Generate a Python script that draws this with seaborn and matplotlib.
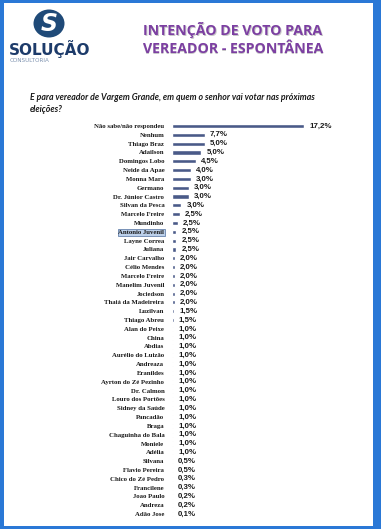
import numpy as np
import pandas as pd
import matplotlib.pyplot as plt
import matplotlib.patches as mpatches
import seaborn as sns

# ================= dados =================
candidatos = [
    "Não sabe/não respondeu", "Nenhum", "Thiago Braz", "Adailson", "Domingos Lobo",
    "Neide da Apae", "Monna Mara", "Germano", "Dr. Júnior Castro", "Silvan da Pesca",
    "Marcelo Freire", "Mundinho", "Antonio Juvenil", "Layne Correa", "Juliana",
    "Jair Carvalho", "Célio Mendes", "Marcelo Freire", "Manelim Juvenil", "Jociedson",
    "Thaiá da Madeireira", "Luzilvan", "Thiago Abreu", "Alan do Peixe", "China",
    "Abdias", "Aurélio do Luizão", "Andreaza", "Eranildes", "Ayrton do Zé Pezinho",
    "Dr. Calmon", "Louro dos Portões", "Sidney da Saúde", "Pancadão", "Braga",
    "Chaguinha do Bala", "Moniele", "Adélia", "Silvana", "Flavio Pereira",
    "Chico do Zé Pedro", "Francilene", "Joao Paulo", "Andreza", "Adão Jose",
]
percentuais = [
    17.2, 7.7, 5.0, 5.0, 4.5, 4.0, 3.0, 3.0, 3.0, 3.0,
    2.5, 2.5, 2.5, 2.5, 2.5, 2.0, 2.0, 2.0, 2.0, 2.0,
    2.0, 1.5, 1.5, 1.0, 1.0, 1.0, 1.0, 1.0, 1.0, 1.0,
    1.0, 1.0, 1.0, 1.0, 1.0, 1.0, 1.0, 1.0, 0.5, 0.5,
    0.3, 0.3, 0.2, 0.2, 0.1,
]
# comprimento das barras tal como aparecem no original (não batem com os rótulos)
barras = [
    17.2, 4.26, 4.26, 3.83, 3.09, 2.44, 2.44, 2.2, 2.2, 1.23,
    1.0, 0.8, 0.57, 0.57, 0.57, 0.35, 0.35, 0.35, 0.35, 0.35,
    0.35, 0.3, 0.2, 0.18, 0.18, 0.18, 0.18, 0.18, 0.18, 0.18,
    0.18, 0.18, 0.18, 0.18, 0.18, 0.18, 0.18, 0.18, 0.14, 0.14,
    0.14, 0.14, 0.12, 0.12, 0.1,
]
destaque = "Antonio Juvenil"

df = pd.DataFrame({"pos": range(len(candidatos)), "nome": candidatos,
                   "pct": percentuais, "barra": barras})

# ================= figura =================
W, H = 381, 529
sns.set_theme(style="white")
plt.rcParams["font.family"] = ["DejaVu Sans"]

fig = plt.figure(figsize=(W / 100, H / 100), dpi=100, facecolor="#2a78d6")

def fx(px):
    return px / W

def fy(py):
    return 1 - py / H

# página branca (atrás de tudo)
fig.patches.append(mpatches.Rectangle((fx(4), fy(526)), fx(373) - fx(4), fy(3) - fy(526),
                                      transform=fig.transFigure, facecolor="white",
                                      edgecolor="none", zorder=-10))

# logo
fig.patches.append(mpatches.Ellipse((fx(49), fy(23.5)), 31 / W, 28 / H, transform=fig.transFigure,
                                    facecolor="#1f4a78", edgecolor="none", zorder=1))
fig.text(fx(49), fy(24), "S", color="white", fontsize=17, fontweight="bold",
         fontstyle="italic", ha="center", va="center", zorder=2)
fig.text(fx(9), fy(49.5), "SOLUÇÃO", color="#1d3b6a", fontsize=11, fontweight="heavy",
         ha="left", va="center")
fig.text(fx(10), fy(60.5), "CONSULTORIA", color="#7f93b0", fontsize=4.1,
         ha="left", va="center")

# título
for texto, yy in [("INTENÇÃO DE VOTO PARA", 30), ("VEREADOR - ESPONTÂNEA", 49)]:
    fig.text(fx(233.6), fy(yy + 1.2), texto, color="#c8c8c8", fontsize=10.2, fontweight="bold",
             family="Open Sans", ha="center", va="center")
    fig.text(fx(233), fy(yy), texto, color="#7c3fa2", fontsize=10.2, fontweight="bold",
             family="Open Sans", ha="center", va="center")

# pergunta
fig.text(fx(30), fy(97), "E para vereador de Vargem Grande, em quem o senhor vai votar nas próximas",
         color="#1a1a1a", fontsize=6.3, fontstyle="italic", family="Lato", fontweight="bold",
         ha="left", va="center")
fig.text(fx(30), fy(110), "eleições?", color="#1a1a1a", fontsize=6.3, fontstyle="italic",
         family="Lato", fontweight="bold", ha="left", va="center")

# ================= barras =================
row = 8.82
top = 126 - row / 2
bottom = top + row * len(candidatos)
left, right = 172, 330
ax = fig.add_axes([fx(left), fy(bottom), fx(right) - fx(left), fy(top) - fy(bottom)])
ax.set_facecolor("none")

sns.barplot(data=df, x="barra", y="pos", orient="h", color="#4a5a88",
            width=0.47, saturation=1, ax=ax)

ax.set_xlim(0, 17.2 * (right - left) / 132)
ax.set_ylim(len(candidatos) - 0.5, -0.5)
ax.set_xticks([])
ax.set_yticks(range(len(candidatos)))
ax.set_yticklabels(candidatos, family="Liberation Serif", fontweight="bold",
                   fontsize=4.9, color="#1a1a1a")
ax.tick_params(axis="y", length=0, pad=5.5)
ax.set_xlabel("")
ax.set_ylabel("")
for s in ax.spines.values():
    s.set_visible(False)

for lbl in ax.get_yticklabels():
    if lbl.get_text() == destaque:
        lbl.set_bbox(dict(facecolor="#bcd0ea", edgecolor="#4f6f9f", linewidth=0.5, pad=0.6))

for i, (b, p) in enumerate(zip(barras, percentuais)):
    ax.annotate(f"{p:.1f}%".replace(".", ","), xy=(b, i), xytext=(3.6, 0),
                textcoords="offset points", ha="left", va="center",
                family="Liberation Sans", fontweight="bold", fontsize=5.7, color="#1a1a1a")

fig.savefig("out.png", dpi=100, facecolor=fig.get_facecolor())
